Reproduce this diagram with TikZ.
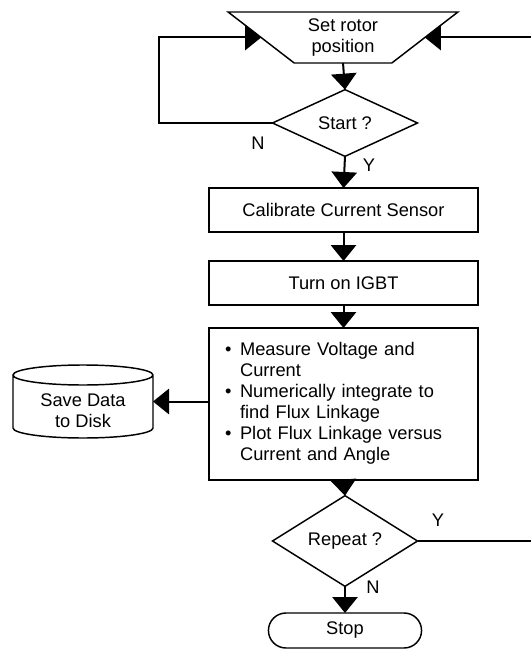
\documentclass[tikz,border=0pt]{standalone}
\usepackage{fontspec}
\setmainfont{Liberation Sans}
\usetikzlibrary{shapes.geometric,shapes.misc,arrows.meta}

\begin{document}
\begin{tikzpicture}[x=0.75pt,y=-0.75pt,line width=1.1pt,
	font=\fontsize{13.7}{15.75}\selectfont,
	arr/.style={-{Triangle[width=19pt,length=12pt]},line width=1.5pt},
	box/.style={draw,minimum width=201.75pt,minimum height=33pt,outer sep=0pt},
	decide/.style={draw,diamond,minimum width=108.75pt,minimum height=43pt,inner sep=0pt,outer sep=0pt}]
	\useasboundingbox (0,0) rectangle (531,649);
	\node [draw,trapezium,shape border rotate=180,trapezium stretches=true,trapezium left angle=41,trapezium right angle=41,minimum width=172.5pt,minimum height=38.25pt,align=center,outer sep=0pt] at (343,37.5) (rotor) {Set rotor\\position};
	\node [decide] at (345,123) (start) {Start ?};
	\node [box] at (343.5,210) (calib) {Calibrate Current Sensor};
	\node [box] at (343.5,283) (igbt) {Turn on IGBT};
	\node [box,minimum height=114pt,text width=177.75pt,inner xsep=12pt,align=left] at (343.5,404) (meas) {\begin{tabular}{@{}l@{\hspace{6.5pt}}l@{}}
		• & Measure Voltage and\\
		  & Current\\
		• & Numerically integrate to\\
		  & find Flux Linkage\\
		• & Plot Flux Linkage versus\\
		  & Current and Angle
	\end{tabular}};
	\node [decide,minimum height=46.5pt] at (345,541) (repeat) {Repeat ?};
	\node [draw,rounded rectangle,minimum width=121.5pt,minimum height=26.25pt,outer sep=0pt] at (345,630.5) (stop) {Stop};

	% disk store
	\node [minimum width=105pt,minimum height=54.75pt,outer sep=0pt] at (83,401.5) (disk) {};
	\node [align=center] at (83,411) (diskText) {Save Data\\to Disk};
	\draw ([yshift=-7.5pt]disk.north west) -- ([yshift=7.5pt]disk.south west)
		arc [start angle=180,end angle=360,x radius=52.5pt,y radius=7.5pt]
		-- ([yshift=-7.5pt]disk.north east)
		arc [start angle=0,end angle=180,x radius=52.5pt,y radius=7.5pt]
		arc [start angle=180,end angle=360,x radius=52.5pt,y radius=7.5pt];

	% branch labels
	\node at (258,143) (startN) {N};
	\node at (369,165) (startY) {Y};
	\node at (438,520) (repeatY) {Y};
	\node at (373,587) (repeatN) {N};

	\draw[arr] (rotor.south) -- (start.north);
	\draw[arr] (start.south) -- (calib.north);
	\draw[arr] (calib.south) -- (igbt.north);
	\draw[arr] (igbt.south) -- (meas.north);
	\draw[arr] (meas.west|-disk.east) -- (disk.east);
	\draw[arr] (meas.south) -- (repeat.north);
	\draw[arr] (repeat.south) -- (stop.north);

	\coordinate (loopL) at (159,123);
	\coordinate (loopR) at (536,541);
	\draw[arr] (start.west) -- (loopL) |- (rotor.west);
	\draw[arr] (repeat.east) -- (loopR) |- (rotor.east);
\end{tikzpicture}
\end{document}
